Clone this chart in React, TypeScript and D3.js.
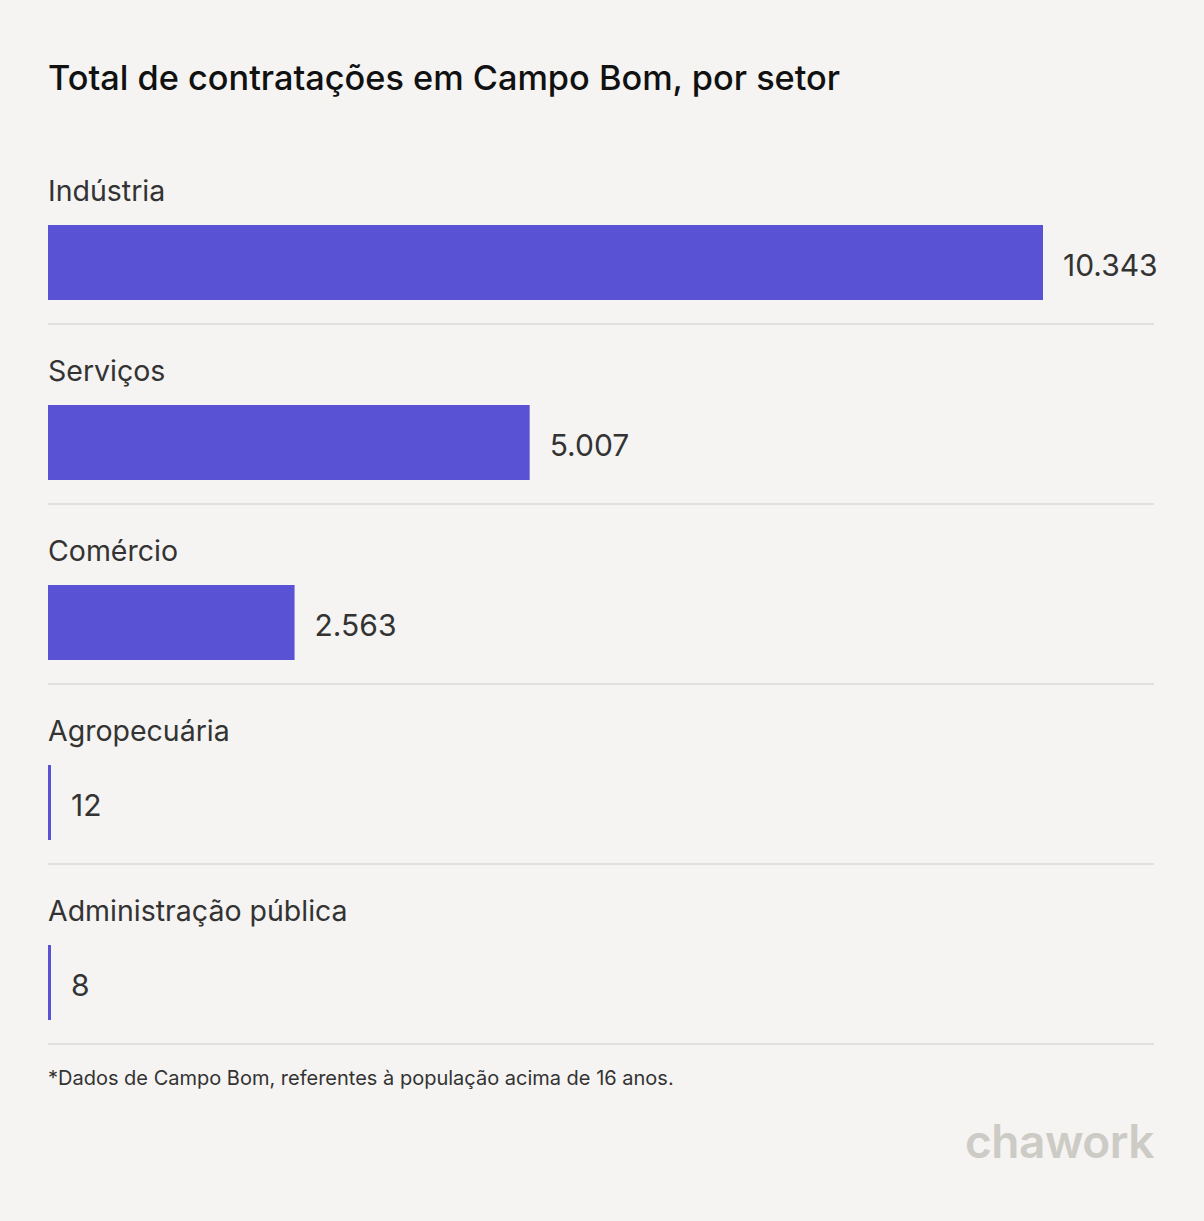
import React from "react";
import * as d3 from "d3";

const categories = ["Indústria", "Serviços", "Comércio", "Agropecuária", "Administração pública"];
const values = [10343, 5007, 2563, 12, 8];
const valueLabels = ["10.343", "5.007", "2.563", "12", "8"];
const title = "Total de contratações em Campo Bom, por setor";
const footnote = "*Dados de Campo Bom, referentes à população acima de 16 anos.";

const W = 1204;
const H = 1221;
const left = 48;
const right = 1154;
const rowTop = 145;
const rowH = 180;
const font = "Inter, 'Noto Sans', sans-serif";

export default function App() {
  const x = d3.scaleLinear().domain([0, d3.max(values) as number]).range([left, 1043]);
  const y = d3.scaleBand<number>().domain(d3.range(categories.length)).range([rowTop, rowTop + rowH * categories.length]);
  return (
    <svg width={W} height={H} style={{ position: "absolute", left: 0, top: 0, display: "block" }}>
      <rect x={0} y={0} width={W} height={H} fill="#f5f4f2" />
      <text x={left} y={90} fontFamily={font} fontSize={34.3} fontWeight={500} fill="#111">{title}</text>
      {categories.map((c, i) => {
        const y0 = y(i) as number;
        const w = Math.max(3, x(values[i]) - left);
        return (
          <g key={c}>
            <text x={left} y={y0 + 56} fontFamily={font} fontSize={28.5} fill="#333">{c}</text>
            <rect x={left} y={y0 + 80} width={w} height={75} fill="#5a52d5" />
            <text x={left + w + 20} y={y0 + 80 + 37.5 + 13} fontFamily={font} fontSize={30} fill="#333">{valueLabels[i]}</text>
            <line x1={left} x2={right} y1={y0 + 179} y2={y0 + 179} stroke="#e1e0dd" strokeWidth={2} />
          </g>
        );
      })}
      <text x={left} y={1085} fontFamily={font} fontSize={20} fill="#333">{footnote}</text>
      <text x={right} y={1158} textAnchor="end" fontFamily={font} fontSize={46} fontWeight={600} fill="#cdcbc5" letterSpacing={-0.5}>chawork</text>
    </svg>
  );
}
